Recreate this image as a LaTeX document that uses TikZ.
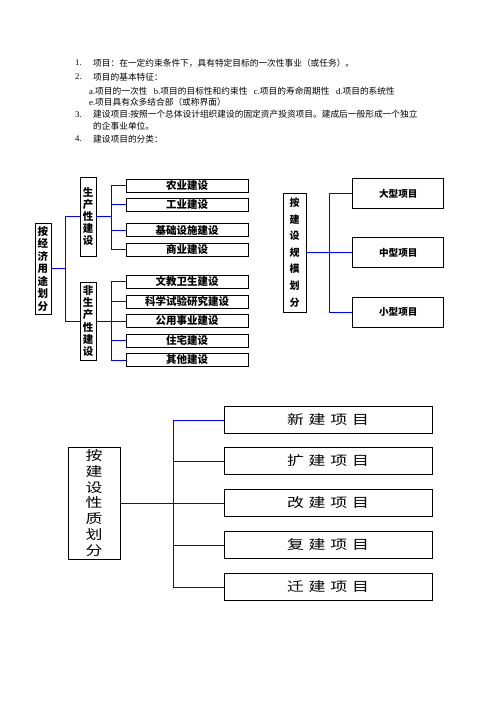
\documentclass[tikz,border=0pt]{standalone}
\usepackage{fontspec}
\setmainfont{Liberation Serif}
\newfontfamily\cjk{Noto Sans CJK SC}
\newfontfamily\cjkw[FakeStretch=1.3]{Noto Sans CJK SC}
\newfontfamily\lat{Liberation Serif}
\newcommand\la[1]{{\lat #1}}
\newcommand\gapw{\hspace{4.8pt}}
\begin{document}
\begin{tikzpicture}[x=1pt,y=-1pt,
  conn/.style={draw=blue, line width=0.9pt},
  bx/.style={draw=black, line width=0.8pt, inner sep=0pt, fill=white},
  lbox/.style={bx, minimum width=122pt, minimum height=13pt, font=\cjk\bfseries\fontsize{10.5}{12}\selectfont},
  rbox/.style={bx, minimum width=91pt, minimum height=30pt, font=\cjk\bfseries\fontsize{9.6}{12}\selectfont},
  bbox/.style={bx, minimum width=208pt, minimum height=27pt, font=\cjkw\fontsize{13}{15}\selectfont},
  txt/.style={anchor=west, inner sep=0pt, font=\cjk\fontsize{8.7}{10}\selectfont}]
\useasboundingbox (0,0) rectangle (496,702);

% ---- text lines
\node[txt] (n1) at (75,63) {\la{1.}};
\node[txt] (t1) at (93,63) {项目：在一定约束条件下，具有特定目标的一次性事业（或任务）。};
\node[txt] (n2) at (75,77) {\la{2.}};
\node[txt] (t2) at (93,77) {项目的基本特征：};
\node[txt] (t2a) at (89,91) {\la{a.}项目的一次性\hspace{6.5pt}\la{b.}项目的目标性和约束性\hspace{6.5pt}\la{c.}项目的寿命周期性\hspace{6.5pt}\la{d.}项目的系统性};
\node[txt] (t2e) at (89,102.5) {\la{e.}项目具有众多结合部（或称界面）};
\node[txt] (n3) at (75,114.5) {\la{3.}};
\node[txt] (t3) at (93,114.5) {建设项目\la{:}按照一个总体设计组织建设的固定资产投资项目。建成后一般形成一个独立};
\node[txt] (t3b) at (93,126.5) {的企事业单位。};
\node[txt] (n4) at (75,139) {\la{4.}};
\node[txt] (t4) at (93,139) {建设项目的分类：};

% ---- diagram 1: by economic use
\node[bx, minimum width=16pt, minimum height=91pt, align=center,
  font=\cjk\bfseries\fontsize{10.5}{12.5}\selectfont] (econ) at (43,268.5)
  {按\\经\\济\\用\\途\\划\\分};
\node[bx, minimum width=16pt, minimum height=79pt, align=center,
  font=\cjk\bfseries\fontsize{10.5}{12.1}\selectfont] (prod) at (88,216.5)
  {生\\产\\性\\建\\设};
\node[bx, minimum width=16pt, minimum height=78pt, align=center,
  font=\cjk\bfseries\fontsize{10.5}{12.2}\selectfont] (nprod) at (88,321)
  {非\\生\\产\\性\\建\\设};

\node[lbox] (a1) at (187,185.5) {农业建设};
\node[lbox] (a2) at (187,204.5) {工业建设};
\node[lbox] (a3) at (187,230) {基础设施建设};
\node[lbox] (a4) at (187,249.5) {商业建设};
\node[lbox] (b1) at (187,281.5) {文教卫生建设};
\node[lbox] (b2) at (187,301.5) {科学试验研究建设};
\node[lbox] (b3) at (187,321) {公用事业建设};
\node[lbox] (b4) at (187,340.5) {住宅建设};
\node[lbox] (b5) at (187,360) {其他建设};

\coordinate (bus1) at (65,0);
\coordinate (bus2) at (111,0);
\draw[conn] (econ.east) -- (econ.east -| bus1);
\draw[conn] (bus1 |- prod.west) -- (bus1 |- nprod.west);
\draw[conn] (bus1 |- prod.west) -- (prod.west);
\draw[conn] (bus1 |- nprod.west) -- (nprod.west);
\draw[conn] (prod.east) -- (prod.east -| bus2);
\draw[conn] (bus2 |- a1.west) -- (bus2 |- a4.west);
\foreach \n in {a1,a2,a3,a4} \draw[conn] (bus2 |- \n.west) -- (\n.west);
\draw[conn] (nprod.east) -- (nprod.east -| bus2);
\draw[conn] (bus2 |- b1.west) -- (bus2 |- b5.west);
\foreach \n in {b1,b2,b3,b4,b5} \draw[conn] (bus2 |- \n.west) -- (\n.west);

% ---- diagram 2: by scale
\node[bx, minimum width=23pt, minimum height=119pt, align=center,
  font=\cjk\bfseries\fontsize{10}{16.6}\selectfont] (scale) at (294.5,252.5)
  {按\\建\\设\\规\\模\\划\\分};
\node[rbox] (s1) at (398.3,193.5) {大型项目};
\node[rbox] (s2) at (398.3,252.5) {中型项目};
\node[rbox] (s3) at (398.3,312) {小型项目};
\coordinate (bus3) at (329,0);
\draw[conn] (scale.east) -- (scale.east -| bus3);
\draw[conn] (bus3 |- s1.west) -- (bus3 |- s3.west);
\foreach \n in {s1,s2,s3} \draw[conn] (bus3 |- \n.west) -- (\n.west);

% ---- diagram 3: by nature
\node[bx, minimum width=52pt, minimum height=112pt, align=center,
  font=\cjkw\fontsize{13}{15.7}\selectfont] (nat) at (94,503)
  {按\\建\\设\\性\\质\\划\\分};
\node[bbox] (c1) at (328,420) {新\gapw 建\gapw 项\gapw 目};
\node[bbox] (c2) at (328,461) {扩\gapw 建\gapw 项\gapw 目};
\node[bbox] (c3) at (328,503) {改\gapw 建\gapw 项\gapw 目};
\node[bbox] (c4) at (328,545) {复\gapw 建\gapw 项\gapw 目};
\node[bbox] (c5) at (328,587) {迁\gapw 建\gapw 项\gapw 目};
\coordinate (bus4) at (173,0);
\draw[conn] (nat.east) -- (nat.east -| bus4);
\draw[conn] (bus4 |- c1.west) -- (bus4 |- c5.west);
\foreach \n in {c1,c2,c3,c4,c5} \draw[conn] (bus4 |- \n.west) -- (\n.west);
\end{tikzpicture}
\end{document}
